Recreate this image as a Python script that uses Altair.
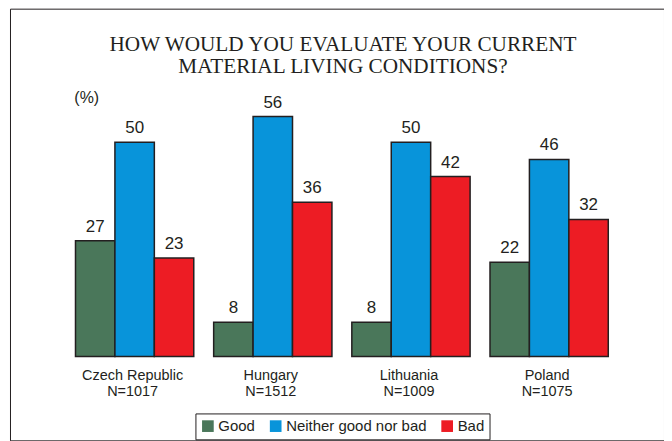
import altair as alt
import pandas as pd

countries = ["Czech Republic", "Hungary", "Lithuania", "Poland"]
sample_sizes = ["N=1017", "N=1512", "N=1009", "N=1075"]
answers = ["Good", "Neither good nor bad", "Bad"]
good = [27, 8, 8, 22]
neither = [50, 56, 50, 46]
bad = [23, 36, 42, 32]
colors = ["#4a775a", "#0894da", "#ed1c24"]
title_lines = ["HOW WOULD YOU EVALUATE YOUR CURRENT", "MATERIAL LIVING CONDITIONS?"]
unit_label = "(%)"

rows = []
for i, c in enumerate(countries):
    for a, vals in zip(answers, [good, neither, bad]):
        rows.append({"country": c, "answer": a, "value": vals[i]})
df = pd.DataFrame(rows)
labels_df = pd.DataFrame({
    "country": countries,
    "label": [f"{c}\n{n}" for c, n in zip(countries, sample_sizes)],
})
title_df = pd.DataFrame({"t": ["\n".join(title_lines)]})
unit_df = pd.DataFrame({"t": [unit_label]})

INK = "#231f20"
SANS = "Liberation Sans"

x = alt.X("country:N", sort=countries, axis=None,
          scale=alt.Scale(range=[65.7, 600.1], paddingInner=0.144, paddingOuter=0))
y = alt.Y("value:Q", axis=None,
          scale=alt.Scale(domain=[0, 80], range=[349, 5], nice=False, zero=True))
xo = alt.XOffset("answer:N", sort=answers,
                 scale=alt.Scale(paddingInner=0, paddingOuter=0))

base = alt.Chart(df)

bars = base.mark_bar(stroke=INK, strokeWidth=1.5).encode(
    x=x, xOffset=xo, y=y,
    color=alt.Color(
        "answer:N", sort=answers,
        scale=alt.Scale(domain=answers, range=colors),
        legend=alt.Legend(
            orient="none", legendX=186, legendY=406, direction="horizontal",
            title=None, strokeColor=INK, padding=5,
            symbolType="square", symbolSize=137, symbolStrokeWidth=0, symbolOpacity=1,
            labelFont=SANS, labelFontSize=15, labelColor=INK,
            labelOffset=3, columnPadding=13,
        ),
    ),
)

values = base.mark_text(dy=-9, baseline="alphabetic", fontSize=17, font=SANS, color=INK).encode(
    x=x, xOffset=xo, y=y, text=alt.Text("value:Q"),
)

cat_labels = alt.Chart(labels_df).mark_text(
    baseline="alphabetic", fontSize=14.5, font=SANS, color=INK,
    lineBreak="\n", lineHeight=16.5, dx=-2,
).encode(x=x, y=alt.value(372), text="label:N")

title = alt.Chart(title_df).mark_text(
    baseline="alphabetic", fontSize=21.3, font="Liberation Serif", color=INK,
    lineBreak="\n", lineHeight=22.5, align="center",
).encode(x=alt.value(334), y=alt.value(42), text="t:N")

unit = alt.Chart(unit_df).mark_text(
    baseline="alphabetic", fontSize=16, font=SANS, color=INK, align="center",
).encode(x=alt.value(77), y=alt.value(95), text="t:N")

chart = alt.layer(bars, values, cat_labels, title, unit).properties(
    width=656, height=433,
    autosize=alt.AutoSizeParams(type="none"),
    padding={"left": 2, "top": 0, "right": 0, "bottom": 0},
    background="white",
).configure_view(stroke=INK, strokeWidth=1)

chart.save("out.html", embed_options={"renderer": "svg", "actions": False})
